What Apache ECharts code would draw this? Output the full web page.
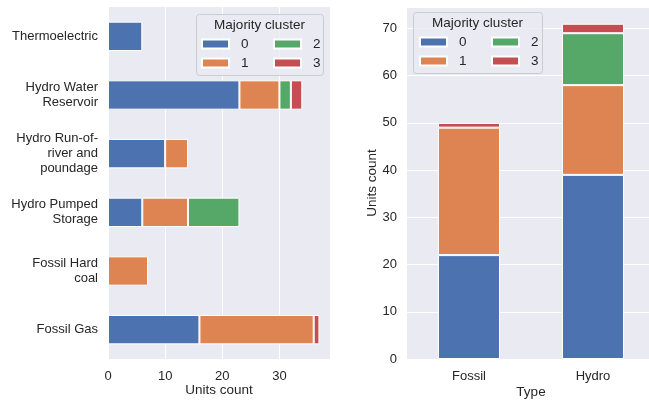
<!DOCTYPE html>
<html>
<head>
<meta charset="utf-8">
<script src="https://cdn.jsdelivr.net/npm/echarts@6/dist/echarts.min.js"></script>
<style>
  html, body { margin: 0; padding: 0; background: #ffffff; }
  #chart { width: 649px; height: 400px; }
</style>
</head>
<body>
<div id="chart"></div>
<script>
// Units per technology, split by majority cluster
const techCategories = ['Thermoelectric', 'Hydro Water\nReservoir', 'Hydro Run-of-\nriver and\npoundage',
  'Hydro Pumped\nStorage', 'Fossil Hard\ncoal', 'Fossil Gas'];
const techCluster0 = [6, 23, 10, 6, 0, 16];
const techCluster1 = [0, 7, 4, 8, 7, 20];
const techCluster2 = [0, 2, 0, 9, 0, 0];
const techCluster3 = [0, 2, 0, 0, 0, 1];

// Units per type, split by majority cluster
const typeCategories = ['Fossil', 'Hydro'];
const typeCluster0 = [22, 39];
const typeCluster1 = [27, 19];
const typeCluster2 = [0, 11];
const typeCluster3 = [1, 2];

const clusterNames = ['0', '1', '2', '3'];
const colors = ['#4c72b0', '#dd8452', '#55a868', '#c44e52'];
const textColor = '#262626';
const font = 'Liberation Sans, Arial, sans-serif';

const chart = echarts.init(document.getElementById('chart'));

function makeSeries(values, idx, axisIdx, width) {
  return {
    name: clusterNames[idx],
    type: 'bar',
    stack: 'total' + axisIdx,
    xAxisIndex: axisIdx,
    yAxisIndex: axisIdx,
    barWidth: width,
    data: values.map(v => v === 0 ? null : v),
    itemStyle: { color: colors[idx], borderColor: '#ffffff', borderWidth: 1 },
    emphasis: { disabled: true },
    animation: false
  };
}

function legendPart(left, top, names) {
  return {
    left: left, top: top, orient: 'vertical',
    data: names, itemWidth: 27, itemHeight: 9, itemGap: 5,
    icon: 'rect', selectedMode: false, z: 5, padding: 0,
    textStyle: { color: textColor, fontSize: 13.5, fontFamily: font, lineHeight: 14, padding: [0, 0, 0, 7] }
  };
}

const gridLine = { show: true, lineStyle: { color: '#ffffff', width: 1 } };
const axisLabel = { color: textColor, fontSize: 13, fontFamily: font };
const nameStyle = { color: textColor, fontSize: 13.5, fontFamily: font };

chart.setOption({
  backgroundColor: '#ffffff',
  textStyle: { fontFamily: font },
  grid: [
    { left: 108, top: 7, width: 222, height: 352, show: true, backgroundColor: '#eaeaf2', borderWidth: 0,
      containLabel: false, outerBoundsMode: 'none' },
    { left: 407, top: 7, width: 248, height: 352, show: true, backgroundColor: '#eaeaf2', borderWidth: 0,
      containLabel: false, outerBoundsMode: 'none' }
  ],
  xAxis: [
    {
      gridIndex: 0, type: 'value', min: 0, max: 38.85, interval: 10,
      name: 'Units count', nameLocation: 'middle', nameGap: 24, nameMoveOverlap: false, nameTextStyle: nameStyle,
      axisLine: { show: false }, axisTick: { show: false },
      axisLabel: Object.assign({ margin: 11, showMaxLabel: false }, axisLabel),
      splitLine: gridLine
    },
    {
      gridIndex: 1, type: 'category', data: typeCategories,
      name: 'Type', nameLocation: 'middle', nameGap: 26, nameMoveOverlap: false, nameTextStyle: nameStyle,
      axisLine: { show: false }, axisTick: { show: false },
      axisLabel: Object.assign({ margin: 11 }, axisLabel),
      splitLine: { show: false }
    }
  ],
  yAxis: [
    {
      gridIndex: 0, type: 'category', data: techCategories, inverse: true,
      axisLine: { show: false }, axisTick: { show: false },
      axisLabel: Object.assign({ margin: 10, lineHeight: 15, align: 'right' }, axisLabel),
      splitLine: { show: false }
    },
    {
      gridIndex: 1, type: 'value', min: 0, max: 74.55, interval: 10,
      name: 'Units count', nameLocation: 'middle', nameGap: 28, nameMoveOverlap: false, nameTextStyle: nameStyle,
      axisLine: { show: false }, axisTick: { show: false },
      axisLabel: Object.assign({ margin: 10, showMaxLabel: false }, axisLabel),
      splitLine: gridLine
    }
  ],
  graphic: [
    { type: 'rect', z: 3, shape: { x: 196.5, y: 14.5, width: 127, height: 61, r: 3 },
      style: { fill: 'rgba(234,234,242,0.8)', stroke: '#cccccc', lineWidth: 1 } },
    { type: 'text', z: 4, x: 259.5, y: 25,
      style: { text: 'Majority cluster', fill: textColor, font: '13.5px ' + font, textAlign: 'center', textVerticalAlign: 'middle' } },
    { type: 'rect', z: 3, shape: { x: 413.5, y: 12.5, width: 129, height: 61, r: 3 },
      style: { fill: 'rgba(234,234,242,0.8)', stroke: '#cccccc', lineWidth: 1 } },
    { type: 'text', z: 4, x: 477.5, y: 23,
      style: { text: 'Majority cluster', fill: textColor, font: '13.5px ' + font, textAlign: 'center', textVerticalAlign: 'middle' } }
  ],
  legend: [
    legendPart(201, 37, ['0', '1']),
    legendPart(273, 37, ['2', '3']),
    legendPart(419, 35, ['0', '1']),
    legendPart(491, 35, ['2', '3'])
  ],
  series: [
    makeSeries(techCluster0, 0, 0, '50%'),
    makeSeries(techCluster1, 1, 0, '50%'),
    makeSeries(techCluster2, 2, 0, '50%'),
    makeSeries(techCluster3, 3, 0, '50%'),
    makeSeries(typeCluster0, 0, 1, '50%'),
    makeSeries(typeCluster1, 1, 1, '50%'),
    makeSeries(typeCluster2, 2, 1, '50%'),
    makeSeries(typeCluster3, 3, 1, '50%')
  ]
});
</script>
</body>
</html>
